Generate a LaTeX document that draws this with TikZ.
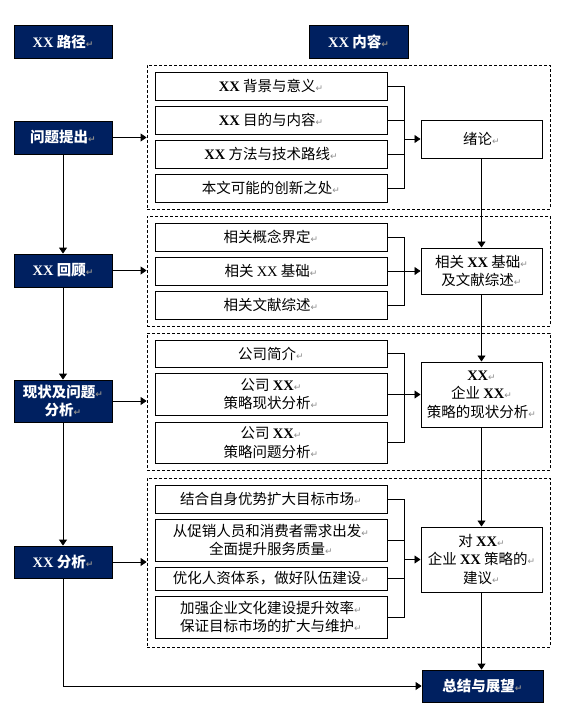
\documentclass[tikz,border=0pt]{standalone}
\usepackage{fontspec}
\setmainfont{Noto Sans CJK SC}
\newfontfamily\latinfont{Liberation Serif}
\newfontfamily\symfont{DejaVu Sans}
\usetikzlibrary{arrows.meta}
\definecolor{boxnavy}{HTML}{002060}
\definecolor{markgray}{HTML}{8C8C8C}
\newcommand{\boxfont}{\fontsize{14.5}{18.5}\selectfont}
\newcommand{\xx}{{\latinfont\bfseries XX}}
\newcommand{\parmark}{{\symfont\fontsize{9}{9}\selectfont\color{markgray}↵}}
\tikzset{
  darkbox/.style={draw=black, line width=0.8pt, fill=boxnavy, text=white,
    font=\boxfont\bfseries, minimum width=98, inner sep=0pt, align=center},
  itembox/.style={draw=black, line width=1pt, minimum width=232,
    inner sep=0pt, align=center, font=\boxfont},
  resultbox/.style={draw=black, line width=1pt, minimum width=121,
    inner sep=0pt, align=center, font=\boxfont},
  groupbox/.style={draw=black, line width=0.8pt, dash pattern=on 3pt off 2pt,
    minimum width=403, inner sep=0pt},
  link/.style={line width=0.8pt, -{Triangle[length=6pt,width=8pt]}},
  braceline/.style={line width=0.8pt}
}
\begin{document}
\begin{tikzpicture}[x=1pt, y=-1pt]
   \useasboundingbox (0,0) rectangle (587,709);
   % headings
   \node (lh)[darkbox, minimum height=33] at (63,41.5) {\xx{} 路径\parmark};
   \node (ch)[darkbox, minimum width=99, minimum height=33] at (358.5,41.5) {\xx{} 内容\parmark};
   % left column
   \node (s1)[darkbox, minimum height=33] at (63,137.5) {问题提出\parmark};
   \node (s2)[darkbox, minimum height=33] at (63,270.5) {\xx{} 回顾\parmark};
   \node (s3)[darkbox, minimum height=42] at (63,401) {现状及问题\parmark\\分析\parmark};
   \node (s4)[darkbox, minimum height=32] at (63,562) {\xx{} 分析\parmark};
   \node (end)[darkbox, minimum width=121, minimum height=32] at (482.5,686) {总结与展望\parmark};
   % dashed groups
   \node (g1)[groupbox, minimum height=144] at (348.5,137) {};
   \node (g2)[groupbox, minimum height=110] at (348.5,271) {};
   \node (g3)[groupbox, minimum height=137] at (348.5,401.5) {};
   \node (g4)[groupbox, minimum height=169] at (348.5,562.5) {};
   % group 1
   \node (a1)[itembox, minimum height=28] at (271,86) {\xx{} 背景与意义\parmark};
   \node (a2)[itembox, minimum height=28] at (271,120) {\xx{} 目的与内容\parmark};
   \node (a3)[itembox, minimum height=28] at (271,154) {\xx{} 方法与技术路线\parmark};
   \node (a4)[itembox, minimum height=28] at (271,188) {本文可能的创新之处\parmark};
   \node (r1)[resultbox, minimum height=38] at (481.5,139) {绪论\parmark};
   % group 2
   \node (b1)[itembox, minimum height=28] at (271,237) {相关概念界定\parmark};
   \node (b2)[itembox, minimum height=28] at (271,271) {相关 {\latinfont XX} 基础\parmark};
   \node (b3)[itembox, minimum height=28] at (271,305) {相关文献综述\parmark};
   \node (r2)[resultbox, minimum height=46] at (481.5,271) {相关 \xx{} 基础\parmark\\及文献综述\parmark};
   % group 3
   \node (c1)[itembox, minimum height=27] at (271,353.5) {公司简介\parmark};
   \node (c2)[itembox, minimum height=42] at (271,394) {公司 \xx\parmark\\策略现状分析\parmark};
   \node (c3)[itembox, minimum height=41] at (271,442.5) {公司 \xx\parmark\\策略问题分析\parmark};
   \node (r3)[resultbox, minimum height=65] at (481.5,394.5) {\xx\parmark\\企业 \xx\parmark\\策略的现状分析\parmark};
   % group 4
   \node (d1)[itembox, minimum height=28] at (271,499) {结合自身优势扩大目标市场\parmark};
   \node (d2)[itembox, minimum height=42] at (271,540) {从促销人员和消费者需求出发\parmark\\全面提升服务质量\parmark};
   \node (d3)[itembox, minimum height=23] at (271,578.5) {优化人资体系，做好队伍建设\parmark};
   \node (d4)[itembox, minimum height=42] at (271,617) {加强企业文化建设提升效率\parmark\\保证目标市场的扩大与维护\parmark};
   \node (r4)[resultbox, minimum height=65] at (481.5,559.5) {对 \xx\parmark\\企业 \xx{} 策略的\parmark\\建议\parmark};
   % bracket joints
   \path (r1.west) ++(-16,0) coordinate (k1);
   \path (r2.west) ++(-16,0) coordinate (k2);
   \path (r3.west) ++(-16,0) coordinate (k3);
   \path (r4.west) ++(-16,0) coordinate (k4);
   \draw[braceline] (a1.east) -| (k1);
   \draw[braceline] (a2.east) -| (k1);
   \draw[braceline] (a3.east) -| (k1);
   \draw[braceline] (a4.east) -| (k1);
   \draw[link] (k1) -- (r1.west);
   \draw[braceline] (b1.east) -| (k2);
   \draw[braceline] (b2.east) -| (k2);
   \draw[braceline] (b3.east) -| (k2);
   \draw[link] (k2) -- (r2.west);
   \draw[braceline] (c1.east) -| (k3);
   \draw[braceline] (c2.east) -| (k3);
   \draw[braceline] (c3.east) -| (k3);
   \draw[link] (k3) -- (r3.west);
   \draw[braceline] (d1.east) -| (k4);
   \draw[braceline] (d2.east) -| (k4);
   \draw[braceline] (d3.east) -| (k4);
   \draw[braceline] (d4.east) -| (k4);
   \draw[link] (k4) -- (r4.west);
   % left column arrows
   \draw[link] (s1.south) -- (s2.north);
   \draw[link] (s2.south) -- (s3.north);
   \draw[link] (s3.south) -- (s4.north);
   \draw[link] (s4.south) |- (end.west);
   \draw[link] (s1.east) -- (s1.east -| g1.west);
   \draw[link] (s2.east) -- (s2.east -| g2.west);
   \draw[link] (s3.east) -- (s3.east -| g3.west);
   \draw[link] (s4.east) -- (s4.east -| g4.west);
   % right column arrows
   \draw[link] (r1.south) -- (r2.north);
   \draw[link] (r2.south) -- (r3.north);
   \draw[link] (r3.south) -- (r4.north);
   \draw[link] (r4.south) -- (r4.south |- end.north);
\end{tikzpicture}
\end{document}
